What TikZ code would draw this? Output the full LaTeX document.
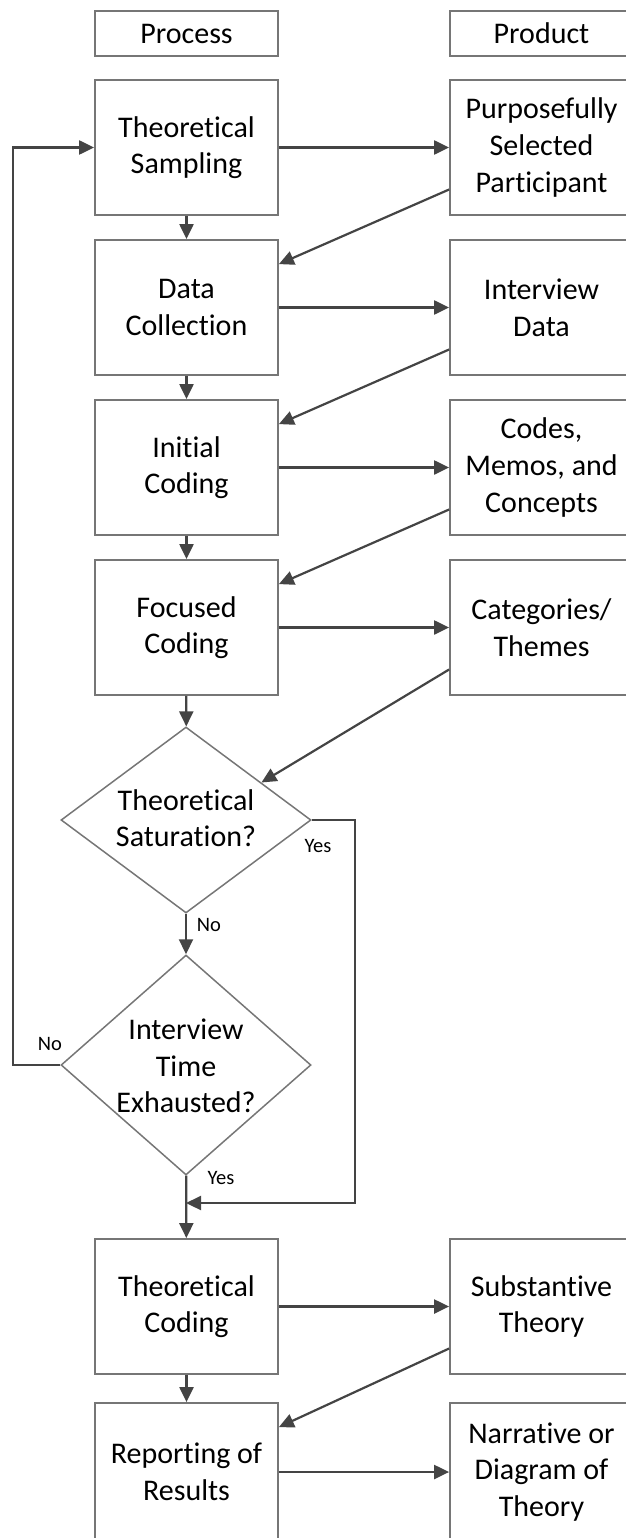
\documentclass[tikz,border=0pt]{standalone}
\usepackage{fontspec}
\setmainfont{Carlito}[Ligatures={NoCommon,NoContextual,NoRequired}, RawFeature={-liga;-clig;-calt;-dlig}]
\usetikzlibrary{arrows.meta,shapes.geometric,calc}
\newcommand{\bigtxt}{\fontsize{30}{36.6}\selectfont}
\newcommand{\lbltxt}{\fontsize{20.5}{24}\selectfont}
% keep "t" and "i" as separate glyphs
\newcommand{\sti}{t\kern0pt i}
\definecolor{boxgray}{HTML}{767676}
\definecolor{linegray}{HTML}{444444}
\begin{document}
\begin{tikzpicture}[x=1pt,y=-1pt,
  box/.style={draw=boxgray, line width=1.8pt, minimum width=183pt, minimum height=135pt,
    inner sep=0pt, align=center, font=\bigtxt, text=black},
  head/.style={box, minimum height=45pt},
  decision/.style={diamond, draw=boxgray, line width=1.5pt, inner sep=0pt},
  dtext/.style={align=center, font=\bigtxt, text=black},
  lbl/.style={font=\lbltxt, text=black, inner sep=0pt},
  arr/.style={draw=linegray, line width=2.2pt, -{Triangle[length=15pt,width=14pt]}},
]
\useasboundingbox (0,0) rectangle (625,1538);

% column headings
\node[head] (hp) at (186.5,33.5) {Process};
\node[head] (hq) at (541.5,33.5) {Product};

% process column
\node[box] (s1) at (186.5,147.5) {Theore\sti cal\\Sampling};
\node[box] (s2) at (186.5,307.5) {Data\\Collec\sti on};
\node[box] (s3) at (186.5,467.5) {Ini\sti al\\Coding};
\node[box] (s4) at (186.5,627.5) {Focused\\Coding};
\node[box] (s5) at (186.5,1306.5) {Theore\sti cal\\Coding};
\node[box, minimum height=138pt] (s6) at (186.5,1472) {Repor\sti ng of\\Results};

% product column
\node[box] (p1) at (541.5,147.5) {Purposefully\\Selected\\Par\sti cipant};
\node[box] (p2) at (541.5,307.5) {Interview\\Data};
\node[box] (p3) at (541.5,467.5) {Codes,\\Memos, and\\Concepts};
\node[box] (p4) at (541.5,627.5) {Categories/\\Themes};
\node[box] (p5) at (541.5,1306.5) {Substan\sti ve\\Theory};
\node[box, minimum height=138pt] (p6) at (541.5,1472) {Narra\sti ve or\\Diagram of\\Theory};

% decisions
\node[decision, minimum width=250pt, minimum height=186pt] (d1) at (186,820) {};
\node[dtext] (t1) at (186,818) {Theore\sti cal\\Satura\sti on?};
\node[decision, minimum width=250pt, minimum height=220pt] (d2) at (186,1065) {};
\node[dtext] (t2) at (186,1066) {Interview\\Time\\Exhausted?};

\coordinate (j) at (186,1203);

% main flow
\draw[arr] (s1) -- (s2);
\draw[arr] (s2) -- (s3);
\draw[arr] (s3) -- (s4);
\draw[arr] (s4) -- (d1);
\draw[arr] (d1) -- (d2);
\draw[arr] (d2) -- (s5);
\draw[arr] (s5) -- (s6);

% process to product
\draw[arr] (s1) -- (p1);
\draw[arr] (s2) -- (p2);
\draw[arr] (s3) -- (p3);
\draw[arr] (s4) -- (p4);
\draw[arr] (s5) -- (p5);
\draw[arr] (s6.east |- p6.west) -- (p6.west);

% product feeds the next step
\draw[arr] ([yshift=-42pt]p1.west) -- ([yshift=-25pt]s2.north east);
\draw[arr] ([yshift=-42pt]p2.west) -- ([yshift=-25pt]s3.north east);
\draw[arr] ([yshift=-42pt]p3.west) -- ([yshift=-25pt]s4.north east);
\draw[arr] ([yshift=-42pt]p4.west) -- ($(d1.north)!0.6!(d1.east)$);
\draw[arr] ([yshift=-42pt]p5.west) -- ([yshift=-25pt]s6.north east);

% decision branches
\draw[arr] (d1.east) -- ++(43,0) |- (j);
\draw[arr] (d2.west) -- ++(-47,0) |- (s1.west);

\node[lbl] (y1) at (318,846) {Yes};
\node[lbl] (n1) at (209,925) {No};
\node[lbl] (n2) at (50,1044) {No};
\node[lbl] (y2) at (221,1178) {Yes};
\end{tikzpicture}
\end{document}
